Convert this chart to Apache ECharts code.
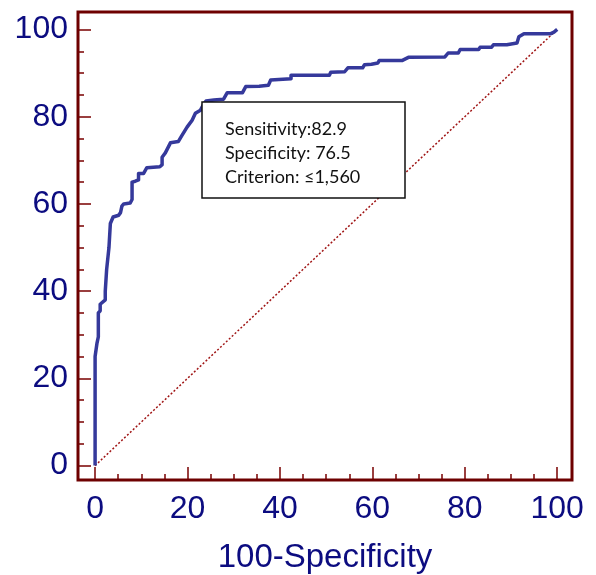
<!DOCTYPE html>
<html>
<head>
<meta charset="utf-8">
<script src="https://cdn.jsdelivr.net/npm/echarts@6/dist/echarts.min.js"></script>
<style>
html,body{margin:0;padding:0;background:#fff;}
#chart{width:596px;height:575px;}
</style>
</head>
<body>
<div id="chart"></div>
<script>
// ROC curve points: 100-Specificity (x) and Sensitivity (y)
const rocX = [0,0,0.4,0.4,0.7,0.7,1.1,1.1,2.2,2.2,2.5,3,3.3,3.6,3.9,5.1,5.5,5.8,6.2,7.6,8,8,8.7,9.4,9.4,10.5,11.2,14,14.5,14.5,15.2,16.3,18,18.8,19.9,21,21.7,22.8,23.5,24,25.7,27.8,28.6,31.9,32.6,35.5,37.5,38,42.4,42.4,50.7,51,54,54.7,57.9,58.3,59.8,61.2,61.5,66.5,67.8,75.7,76.4,78.6,79,83,83.3,85.8,86.2,89.1,89.5,91.3,91.7,92.8,98.5,99.3,100];
const rocY = [0,25,25,28,29.5,35,35.5,37,38,40,45,50,55.5,55.8,57,57.4,58,59.5,60,60.2,61,65,65.2,65.5,67,67,68.3,68.5,69,70.7,71.7,74,74.3,75.7,77.6,79.2,80.8,81.5,82.9,83.6,83.8,84,85.5,85.5,86.9,87,87.2,88.4,88.7,89.5,89.5,90.2,90.3,91.2,91.2,91.9,92,92.3,92.9,92.9,93.6,93.7,94.6,94.6,95.4,95.4,95.9,95.9,96.5,96.5,96.9,96.9,98.3,99,99,99.4,100];
const diagX = [0,100];
const diagY = [0,100];
const xTicks = [0,20,40,60,80,100];
const yTicks = [0,20,40,60,80,100];
const xMinorTicks = [5,10,15,25,30,35,45,50,55,65,70,75,85,90,95];
const yMinorTicks = [5,10,15,25,30,35,45,50,55,65,70,75,85,90,95];
const operatingPoint = [23.5, 82.9];
const boxLines = ['Sensitivity:82.9','Specificity: 76.5','Criterion: \u22641,560'];
const xName = '100-Specificity';

const chart = echarts.init(document.getElementById('chart'), null, {renderer:'canvas'});
const labelColor = '#0c0c80';
const tickColor = '#7a0000';
const fam = 'Liberation Sans, Arial, sans-serif';
// axis ranges extend past 0..100 so the frame sits outside the data area
const xRange = [-3.7, 103.2];
const yRange = [-3.3, 104.0];

function axisBase(range){
  return {type: 'value', min: range[0], max: range[1], axisLine: {show: false, onZero: false}, splitLine: {show: false}};
}
const majorX = Object.assign(axisBase(xRange), {
  position: 'bottom',
  name: xName, nameLocation: 'middle', nameGap: 61,
  nameTextStyle: {color: labelColor, fontSize: 33, fontFamily: fam},
  axisTick: {show: true, inside: true, length: 13, customValues: xTicks, lineStyle: {color: tickColor, width: 1.5}},
  axisLabel: {margin: 13, customValues: xTicks, color: labelColor, fontSize: 32, fontFamily: fam}
});
const minorX = Object.assign(axisBase(xRange), {
  position: 'bottom',
  axisTick: {show: true, inside: true, length: 6, customValues: xMinorTicks, lineStyle: {color: tickColor, width: 1.5}},
  axisLabel: {show: false}
});
const majorY = Object.assign(axisBase(yRange), {
  position: 'left',
  axisTick: {show: true, inside: true, length: 13, customValues: yTicks, lineStyle: {color: tickColor, width: 1.5}},
  axisLabel: {margin: 10, customValues: yTicks, color: labelColor, fontSize: 32, fontFamily: fam}
});
const minorY = Object.assign(axisBase(yRange), {
  position: 'left',
  axisTick: {show: true, inside: true, length: 6, customValues: yMinorTicks, lineStyle: {color: tickColor, width: 1.5}},
  axisLabel: {show: false}
});

const option = {
  animation: false,
  backgroundColor: '#fff',
  grid: {left: 78, right: 24, top: 12, bottom: 95, containLabel: false, outerBoundsMode: 'none', show: true, borderColor: '#6e0000', borderWidth: 3, backgroundColor: 'transparent', z: 10},
  xAxis: [majorX, minorX],
  yAxis: [majorY, minorY],
  series: [
    {
      type: 'line', data: diagX.map((x,i)=>[x,diagY[i]]), symbol: 'none', silent: true,
      lineStyle: {color: '#a01515', width: 1.5, type: [2,2]}, z: 2
    },
    {
      type: 'line', data: rocX.map((x,i)=>[x,rocY[i]]), symbol: 'none', silent: true,
      lineStyle: {color: '#35399b', width: 3.5, join: 'round'}, z: 3
    }
  ]
};
chart.setOption(option);

const p = chart.convertToPixel({xAxisIndex: 0, yAxisIndex: 0}, operatingPoint);
const bx = Math.round(p[0]) - 2, by = Math.round(p[1]) - 2;
const boxEls = [
  {type: 'rect', shape: {x: bx, y: by, width: 203, height: 96}, style: {fill: '#fff', stroke: '#111', lineWidth: 1.5}, z: 20, silent: true}
];
boxLines.forEach((t, i) => {
  boxEls.push({type: 'text', x: bx + 23, y: by + 27 + i * 24, style: {text: t, fill: '#111', font: '18px Lato, "Open Sans", sans-serif', textVerticalAlign: 'middle'}, z: 21, silent: true});
});
chart.setOption({graphic: boxEls});
</script>
</body>
</html>
